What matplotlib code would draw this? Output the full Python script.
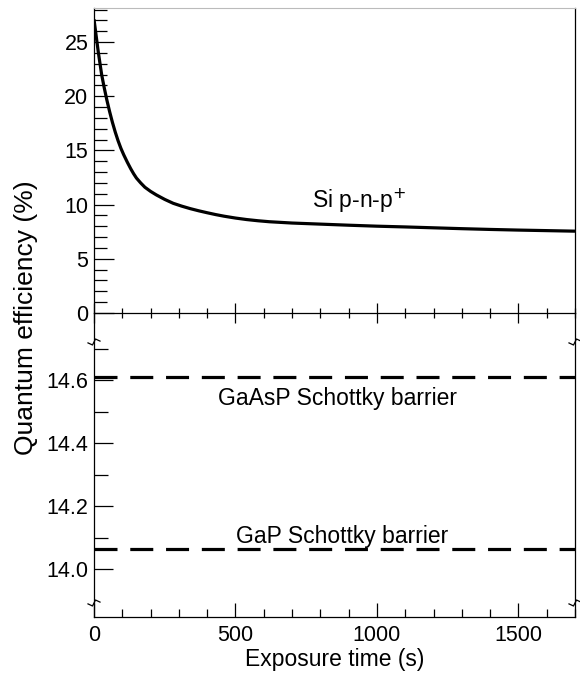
import matplotlib
matplotlib.use("Agg")
import matplotlib.pyplot as plt
from matplotlib.ticker import MultipleLocator, FixedLocator

plt.rcParams['font.family'] = ['Liberation Sans', 'DejaVu Sans']

# Si p-n-p+ photodiode
time_s = [0, 8, 15, 27, 36, 45, 55, 65, 75, 85, 95, 105, 118, 130, 140, 150, 165,
          180, 200, 220, 250, 280, 310, 340, 370, 400, 430, 460, 500, 540, 580,
          620, 660, 700, 750, 800, 900, 1000, 1100, 1200, 1300, 1400, 1500, 1600, 1700]
si_qe = [27.1, 25.5, 24.1, 22.0, 20.8, 19.7, 18.6, 17.6, 16.7, 15.9, 15.2, 14.6,
         13.9, 13.3, 12.85, 12.45, 12.0, 11.6, 11.22, 10.9, 10.48, 10.12, 9.86,
         9.63, 9.43, 9.25, 9.08, 8.93, 8.76, 8.62, 8.51, 8.42, 8.36, 8.3, 8.25,
         8.2, 8.1, 8.01, 7.94, 7.86, 7.78, 7.71, 7.65, 7.6, 7.55]

# Schottky barrier diodes (constant)
flat_time = [0, 1700]
gaasp_qe = [14.61, 14.61]
gap_qe = [14.063, 14.063]

fs = 15.5
fs_text = 16.5
fig = plt.figure(figsize=(5.8, 6.77), dpi=100)
left, right = 94 / 580, 575 / 580
ax2 = fig.add_axes([left, 1 - 617 / 677, right - left, 304 / 677])
ax1 = fig.add_axes([left, 1 - 313 / 677, right - left, 305 / 677])
ax1.patch.set_visible(False)

# top panel
ax1.plot(time_s, si_qe, color='black', lw=2.3, solid_capstyle='butt')
ax1.set_xlim(0, 1700)
ax1.set_ylim(0, 28.14)
ax1.yaxis.set_major_locator(MultipleLocator(5))
ax1.yaxis.set_minor_locator(MultipleLocator(1))
ax1.xaxis.set_major_locator(MultipleLocator(500))
ax1.xaxis.set_minor_locator(MultipleLocator(100))
ax1.tick_params(axis='y', which='major', direction='in', length=14.5, width=0.9,
                labelsize=fs, pad=4, right=False)
ax1.tick_params(axis='y', which='minor', direction='in', length=9.5, width=0.9, right=False)
ax1.tick_params(axis='x', which='major', direction='inout', length=14.4, width=0.9,
                labelbottom=False, top=False)
ax1.tick_params(axis='x', which='minor', direction='inout', length=7.2, width=0.9, top=False)
ax1.spines['top'].set_color('#bbbbbb')
ax1.spines['top'].set_linewidth(0.8)
for s in ['left', 'right', 'bottom']:
    ax1.spines[s].set_linewidth(0.9)
ax1.text(770, 9.69, 'Si p-n-p$^{+}$', fontsize=fs_text, ha='left', va='baseline')

# bottom panel
ax2.plot(flat_time, gaasp_qe, color='black', lw=2.3, dashes=(7.2, 4.0))
ax2.plot(flat_time, gap_qe, color='black', lw=2.3, dashes=(7.2, 4.0))
ax2.set_xlim(0, 1700)
ax2.set_ylim(13.848, 14.813)
ax2.yaxis.set_major_locator(FixedLocator([14.0, 14.2, 14.4, 14.6]))
ax2.yaxis.set_minor_locator(FixedLocator([14.1, 14.3, 14.5, 14.7]))
ax2.set_yticklabels(['14.0', '14.2', '14.4', '14.6'])
ax2.xaxis.set_major_locator(MultipleLocator(500))
ax2.xaxis.set_minor_locator(MultipleLocator(100))
ax2.tick_params(axis='y', which='major', direction='in', length=13.5, width=0.9,
                labelsize=fs, pad=4, right=False)
ax2.tick_params(axis='y', which='minor', direction='in', length=10, width=0.9, right=False)
ax2.tick_params(axis='x', which='major', direction='in', length=10, width=0.9,
                labelsize=fs, pad=6, top=False)
ax2.tick_params(axis='x', which='minor', direction='in', length=6, width=0.9, top=False)
ax2.spines['top'].set_visible(False)
for s in ['left', 'right', 'bottom']:
    ax2.spines[s].set_linewidth(0.9)
ax2.text(437, 14.521, 'GaAsP Schottky barrier', fontsize=fs_text, ha='left', va='baseline')
ax2.text(503, 14.083, 'GaP Schottky barrier', fontsize=fs_text, ha='left', va='baseline')

# axis break marks on the left and right spines
dx = 6 / 481
dy = 3 / 304
for xa in [0, 1]:
    for ya in [1 - 29 / 304, 14 / 304]:
        ax2.plot([xa - dx, xa - 0.25 * dx, xa + 0.25 * dx, xa + dx],
                 [ya - dy * 0.3, ya - dy, ya + dy, ya + dy * 0.3],
                 transform=ax2.transAxes, color='black', lw=0.9, clip_on=False)

ax2.set_xlabel('Exposure time (s)', fontsize=fs_text, labelpad=1)
fig.text(26 / 580, 1 - 318 / 677, 'Quantum efficiency (%)', fontsize=19,
         rotation=90, ha='center', va='center')

fig.savefig('out.png', dpi=100)
